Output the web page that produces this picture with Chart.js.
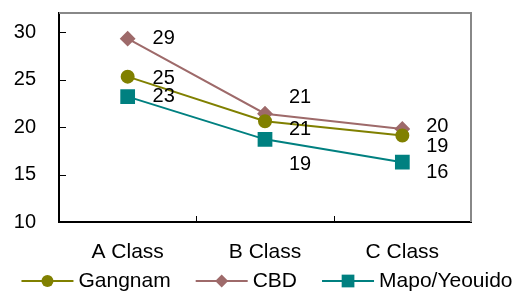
<!DOCTYPE html>
<html>
<head>
<meta charset="utf-8">
<script src="https://cdn.jsdelivr.net/npm/chart.js@4/dist/chart.umd.min.js"></script>
<style>
  html, body { margin: 0; padding: 0; background: #fff; }
</style>
</head>
<body>
<canvas id="grafico" width="522" height="293"></canvas>
<script>
//Dados
const classes = ['A Class', 'B Class', 'C Class']
const gangnam = [25.3, 20.6, 19.1]
const cbd = [29.3, 21.4, 19.8]
const mapo = [23.2, 18.7, 16.3]
const yTicks = [10, 15, 20, 25, 30]

//Deslocamento dos rótulos de valor (dx, dy) por série
const deslocRotulos = [
    [[36, 2], [35, 8], [35, 11]],
    [[36, 0], [35, -16], [35, -2]],
    [[36, 0], [35, 25], [35, 10]]
]

const fonte = 'Liberation Sans, Arial, sans-serif'

//Rótulos de valor
const rotulosPlugin = {
    id: 'rotulos',
    afterDatasetsDraw(chart) {
        const ctx = chart.ctx
        ctx.save()
        ctx.font = '20px ' + fonte
        ctx.fillStyle = '#000'
        ctx.textAlign = 'center'
        ctx.textBaseline = 'middle'
        chart.data.datasets.forEach((ds, i) => {
            chart.getDatasetMeta(i).data.forEach((pt, j) => {
                const d = deslocRotulos[i][j]
                ctx.fillText(Math.round(ds.data[j]), pt.x + d[0], pt.y + d[1])
            })
        })
        ctx.restore()
    }
}

//Moldura e marcas internas dos eixos
const molduraPlugin = {
    id: 'moldura',
    beforeDatasetsDraw(chart) {
        const { ctx, chartArea: a, scales } = chart
        ctx.save()
        ctx.strokeStyle = '#888'
        ctx.lineWidth = 2
        ctx.beginPath()
        ctx.moveTo(a.left, a.top)
        ctx.lineTo(a.right, a.top)
        ctx.lineTo(a.right, a.bottom)
        ctx.stroke()

        ctx.strokeStyle = '#000'
        ctx.lineWidth = 1
        ctx.beginPath()
        yTicks.forEach(v => {
            const y = Math.round(scales.y.getPixelForValue(v)) + 0.5
            ctx.moveTo(a.left, y)
            ctx.lineTo(a.left + 7, y)
        })
        const passo = (a.right - a.left) / classes.length
        for (let i = 1; i < classes.length; i++) {
            const x = Math.round(a.left + passo * i) + 0.5
            ctx.moveTo(x, a.bottom)
            ctx.lineTo(x, a.bottom - 6)
        }
        ctx.stroke()
        ctx.restore()
    }
}

//Legenda com linha e marcador
const legendaPlugin = {
    id: 'legenda',
    afterDraw(chart) {
        const ctx = chart.ctx
        ctx.save()
        ctx.font = '21px ' + fonte
        ctx.textBaseline = 'middle'
        const linha = 52, espaco = 5, gap = 25
        const itens = chart.data.datasets.map(ds => ({ ds, w: ctx.measureText(ds.label).width }))
        let total = 0
        itens.forEach(it => total += linha + espaco + it.w)
        total += gap * (itens.length - 1)
        let x = (chart.width - total) / 2 + 6
        const y = 281
        itens.forEach(it => {
            const ds = it.ds
            ctx.strokeStyle = ds.borderColor
            ctx.lineWidth = 2
            ctx.beginPath()
            ctx.moveTo(x, y)
            ctx.lineTo(x + linha, y)
            ctx.stroke()
            ctx.fillStyle = ds.backgroundColor
            Chart.helpers.drawPoint(ctx, { pointStyle: ds.pointStyle, radius: ds.pointRadius, borderWidth: 0, rotation: 0 }, x + linha / 2, y)
            ctx.fillStyle = '#000'
            ctx.fillText(ds.label, x + linha + espaco, y)
            x += linha + espaco + it.w + gap
        })
        ctx.restore()
    }
}

//Sem margem extra dos rótulos nos eixos
const semPadding = s => {
    s.paddingTop = 0
    s.paddingBottom = 0
    s.paddingLeft = 0
    s.paddingRight = 0
}

let ctxGrafico = document.getElementById('grafico')
let grafico = new Chart(ctxGrafico, {
    type: 'line',
    data: {
        labels: classes,
        datasets: [{
            label: 'Gangnam',
            data: gangnam,
            borderColor: '#808000',
            backgroundColor: '#808000',
            pointStyle: 'circle',
            pointRadius: 6,
            borderWidth: 2
        }, {
            label: 'CBD',
            data: cbd,
            borderColor: '#9e6a6a',
            backgroundColor: '#9e6a6a',
            pointStyle: 'rectRot',
            pointRadius: 6.5,
            borderWidth: 2
        }, {
            label: 'Mapo/Yeouido',
            data: mapo,
            borderColor: '#008080',
            backgroundColor: '#008080',
            pointStyle: 'rect',
            pointRadius: 9,
            borderWidth: 2
        }]
    },
    options: {
        responsive: false,
        animation: false,
        devicePixelRatio: 1,
        layout: { padding: { top: 13, right: 51, bottom: 30, left: 0 } },
        plugins: {
            legend: { display: false },
            tooltip: { enabled: false }
        },
        elements: { point: { borderWidth: 0 }, line: { tension: 0 } },
        scales: {
            x: {
                offset: true,
                grid: { display: false, drawTicks: false },
                border: { display: true, color: '#000', width: 2 },
                ticks: { color: '#000', font: { family: fonte, size: 21 }, padding: 18, maxRotation: 0 },
                afterFit: s => { s.height = 41; semPadding(s) }
            },
            y: {
                min: 10,
                max: 32,
                grid: { display: false, drawTicks: false },
                border: { display: true, color: '#000', width: 2 },
                ticks: { color: '#000', font: { family: fonte, size: 20 }, padding: 23 },
                afterBuildTicks: s => { s.ticks = yTicks.map(v => ({ value: v })) },
                afterFit: s => { s.width = 59; semPadding(s) }
            }
        }
    },
    plugins: [rotulosPlugin, molduraPlugin, legendaPlugin]
})
</script>
</body>
</html>
